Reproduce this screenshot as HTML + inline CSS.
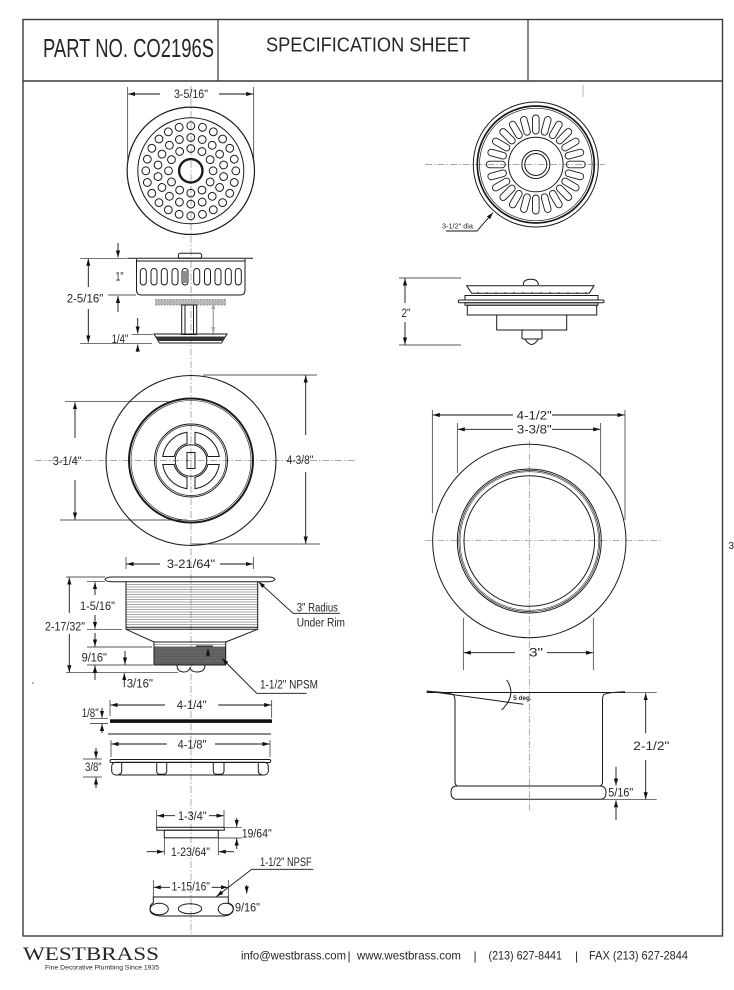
<!DOCTYPE html>
<html><head><meta charset="utf-8"><style>
html,body{margin:0;padding:0;background:#fff;}
svg{display:block;}
text{font-family:"Liberation Sans",sans-serif;fill:#262626;}
.k{stroke:#1a1a1a;fill:none;stroke-width:1;}
.d{stroke:#111;fill:none;stroke-width:0.9;}
.e{stroke:#222;fill:none;stroke-width:0.7;}
.c{stroke:#8a8a8a;fill:none;stroke-width:0.7;stroke-dasharray:7 2 1.5 2;}
.t{font-size:11.5px;}
</style></head><body>
<svg width="734" height="990" viewBox="0 0 734 990" xmlns="http://www.w3.org/2000/svg">
<defs>
<marker id="a" viewBox="0 0 10 6" refX="10" refY="3" markerWidth="7" markerHeight="4.4" markerUnits="userSpaceOnUse" orient="auto"><path d="M0,0L10,3L0,6z" fill="#111"/></marker>
<marker id="g" viewBox="0 0 10 6" refX="10" refY="3" markerWidth="7" markerHeight="4.4" markerUnits="userSpaceOnUse" orient="auto"><path d="M0,0L10,3L0,6z" fill="#aaa"/></marker>
</defs>

<!-- FRAME -->
<rect x="23" y="19.5" width="699.5" height="916.5" fill="none" stroke="#3a3a3a" stroke-width="1.4"/>
<line x1="23" y1="81" x2="722.5" y2="81" stroke="#3a3a3a" stroke-width="1.4"/>
<line x1="218" y1="19.5" x2="218" y2="81" stroke="#3a3a3a" stroke-width="1.2"/>
<line x1="528" y1="19.5" x2="528" y2="81" stroke="#3a3a3a" stroke-width="1.2"/>
<text x="43" y="57" font-size="25.5" textLength="171" lengthAdjust="spacingAndGlyphs">PART NO. CO2196S</text>
<text x="266" y="51.5" font-size="20.5" textLength="204" lengthAdjust="spacingAndGlyphs">SPECIFICATION SHEET</text>
<line x1="583" y1="85" x2="583" y2="97" stroke="#bbb" stroke-width="1"/>

<!-- CENTERLINES -->
<line class="c" x1="191" y1="86" x2="191" y2="936"/>
<line class="c" x1="425" y1="164.5" x2="605" y2="164.5"/>
<line class="c" x1="35" y1="460.5" x2="355" y2="460.5"/>
<line class="c" x1="425" y1="540.7" x2="660" y2="540.7"/>
<line class="c" x1="529.3" y1="441" x2="529.3" y2="812"/>

<!-- TOP LEFT STRAINER (top view) -->
<line class="e" x1="127.7" y1="87" x2="127.7" y2="163"/>
<line class="e" x1="253.7" y1="87" x2="253.7" y2="163"/>
<line class="d" x1="160" y1="94" x2="128.2" y2="94" marker-end="url(#a)"/>
<line class="d" x1="219" y1="94" x2="253.2" y2="94" marker-end="url(#a)"/>
<text class="t" x="191" y="98" text-anchor="middle" textLength="34" lengthAdjust="spacingAndGlyphs">3-5/16"</text>
<g transform="translate(190.8,170.8)" class="k">
<circle r="63.7" stroke-width="1.2"/>
<circle r="53"/>
<circle r="11.7" stroke-width="2.4"/>
<g stroke-width="1">
<circle cy="-45" r="3.9"/><circle cy="-45" r="3.9" transform="rotate(15)"/><circle cy="-45" r="3.9" transform="rotate(30)"/><circle cy="-45" r="3.9" transform="rotate(45)"/><circle cy="-45" r="3.9" transform="rotate(60)"/><circle cy="-45" r="3.9" transform="rotate(75)"/><circle cy="-45" r="3.9" transform="rotate(90)"/><circle cy="-45" r="3.9" transform="rotate(105)"/><circle cy="-45" r="3.9" transform="rotate(120)"/><circle cy="-45" r="3.9" transform="rotate(135)"/><circle cy="-45" r="3.9" transform="rotate(150)"/><circle cy="-45" r="3.9" transform="rotate(165)"/><circle cy="-45" r="3.9" transform="rotate(180)"/><circle cy="-45" r="3.9" transform="rotate(195)"/><circle cy="-45" r="3.9" transform="rotate(210)"/><circle cy="-45" r="3.9" transform="rotate(225)"/><circle cy="-45" r="3.9" transform="rotate(240)"/><circle cy="-45" r="3.9" transform="rotate(255)"/><circle cy="-45" r="3.9" transform="rotate(270)"/><circle cy="-45" r="3.9" transform="rotate(285)"/><circle cy="-45" r="3.9" transform="rotate(300)"/><circle cy="-45" r="3.9" transform="rotate(315)"/><circle cy="-45" r="3.9" transform="rotate(330)"/><circle cy="-45" r="3.9" transform="rotate(345)"/>
<circle cy="-33.3" r="3.9"/><circle cy="-33.3" r="3.9" transform="rotate(20)"/><circle cy="-33.3" r="3.9" transform="rotate(40)"/><circle cy="-33.3" r="3.9" transform="rotate(60)"/><circle cy="-33.3" r="3.9" transform="rotate(80)"/><circle cy="-33.3" r="3.9" transform="rotate(100)"/><circle cy="-33.3" r="3.9" transform="rotate(120)"/><circle cy="-33.3" r="3.9" transform="rotate(140)"/><circle cy="-33.3" r="3.9" transform="rotate(160)"/><circle cy="-33.3" r="3.9" transform="rotate(180)"/><circle cy="-33.3" r="3.9" transform="rotate(200)"/><circle cy="-33.3" r="3.9" transform="rotate(220)"/><circle cy="-33.3" r="3.9" transform="rotate(240)"/><circle cy="-33.3" r="3.9" transform="rotate(260)"/><circle cy="-33.3" r="3.9" transform="rotate(280)"/><circle cy="-33.3" r="3.9" transform="rotate(300)"/><circle cy="-33.3" r="3.9" transform="rotate(320)"/><circle cy="-33.3" r="3.9" transform="rotate(340)"/>
<circle cy="-22.3" r="3.9"/><circle cy="-22.3" r="3.9" transform="rotate(30)"/><circle cy="-22.3" r="3.9" transform="rotate(60)"/><circle cy="-22.3" r="3.9" transform="rotate(90)"/><circle cy="-22.3" r="3.9" transform="rotate(120)"/><circle cy="-22.3" r="3.9" transform="rotate(150)"/><circle cy="-22.3" r="3.9" transform="rotate(180)"/><circle cy="-22.3" r="3.9" transform="rotate(210)"/><circle cy="-22.3" r="3.9" transform="rotate(240)"/><circle cy="-22.3" r="3.9" transform="rotate(270)"/><circle cy="-22.3" r="3.9" transform="rotate(300)"/><circle cy="-22.3" r="3.9" transform="rotate(330)"/>
</g>
</g>

<!-- BASKET SIDE VIEW -->
<line class="d" x1="118" y1="243" x2="118" y2="257.5" marker-end="url(#a)"/>
<line class="e" x1="80" y1="258.3" x2="127" y2="258.3"/>
<line class="k" x1="127.5" y1="258.3" x2="253" y2="258.3" stroke-width="1.6"/>
<path class="k" d="M136.5,259 L136.5,290 Q136.5,295 141.5,295 L240,295 Q245,295 245,290 L245,259"/>
<line class="k" x1="136.5" y1="261" x2="245" y2="261" stroke-width="0.6"/>
<rect class="k" x="178.3" y="253.3" width="23.4" height="5" rx="2" fill="#fff"/>
<g class="k" stroke-width="0.9">
<rect x="140.3" y="268.5" width="6" height="16.5" rx="3"/>
<rect x="151" y="268.5" width="6" height="16.5" rx="3"/>
<rect x="161.3" y="268.5" width="6" height="16.5" rx="3"/>
<rect x="172" y="268.5" width="6" height="16.5" rx="3"/>
<rect x="182" y="268.5" width="6" height="16.5" rx="3"/>
<line x1="184" y1="271" x2="184" y2="283"/><line x1="186" y1="271" x2="186" y2="283"/>
<rect x="193.7" y="268.5" width="6" height="16.5" rx="3"/>
<rect x="204.5" y="268.5" width="6" height="16.5" rx="3"/>
<rect x="215" y="268.5" width="6" height="16.5" rx="3"/>
<rect x="225.3" y="268.5" width="6" height="16.5" rx="3"/>
<rect x="235.3" y="268.5" width="6" height="16.5" rx="3"/>
</g>
<text class="t" x="119.5" y="280.7" text-anchor="middle" textLength="8" lengthAdjust="spacingAndGlyphs">1"</text>
<line class="d" x1="118" y1="312" x2="118" y2="296" marker-end="url(#a)"/>
<line class="e" x1="108" y1="295" x2="136" y2="295"/>
<line class="d" x1="88.3" y1="287" x2="88.3" y2="258.8" marker-end="url(#a)"/>
<line class="d" x1="88.3" y1="309" x2="88.3" y2="342.5" marker-end="url(#a)"/>
<text class="t" x="85" y="302.5" text-anchor="middle" textLength="36.6" lengthAdjust="spacingAndGlyphs">2-5/16"</text>
<line class="e" x1="80" y1="343.3" x2="152" y2="343.3"/>
<rect x="155" y="299.5" width="71" height="5.5" fill="#b8b8b8"/>
<line x1="155" y1="299.5" x2="226" y2="299.5" stroke="#888" stroke-width="1" stroke-dasharray="1.5 1.5"/>
<line x1="155" y1="305" x2="226" y2="305" stroke="#888" stroke-width="1" stroke-dasharray="1.5 1.5"/>
<rect class="k" x="181.7" y="305" width="15" height="29.5" fill="#fff"/>
<line class="k" x1="185" y1="305" x2="185" y2="334" stroke-width="0.6"/>
<line class="k" x1="193.5" y1="305" x2="193.5" y2="334" stroke-width="0.6"/>
<line x1="213.3" y1="320" x2="213.3" y2="302" stroke="#aaa" stroke-width="1.4" marker-end="url(#g)"/>
<line x1="213.3" y1="318" x2="213.3" y2="334" stroke="#aaa" stroke-width="1.4" marker-end="url(#g)"/>
<polygon class="k" points="154,334 227,334 221.5,343 159.5,343" fill="#fff"/>
<polygon points="156,336.5 225,336.5 222,341 159,341" fill="#333"/>
<text class="t" x="120" y="343" text-anchor="middle" textLength="16.6" lengthAdjust="spacingAndGlyphs">1/4"</text>
<line class="d" x1="137.7" y1="318" x2="137.7" y2="333.5" marker-end="url(#a)"/>
<line class="e" x1="131.7" y1="334.3" x2="153" y2="334.3"/>
<line class="d" x1="137.7" y1="352" x2="137.7" y2="344.5" marker-end="url(#a)"/>

<!-- TOP RIGHT STRAINER -->
<g transform="translate(535.8,164.5)" class="k">
<circle r="62.5"/>
<circle r="58.5" stroke-width="1.7"/>
<circle r="56.3" stroke-width="0.7"/>
<g stroke-width="0.9">
<rect x="-3.3" y="-49.5" width="6.6" height="19" rx="3.3"/><rect x="-3.3" y="-49.5" width="6.6" height="19" rx="3.3" transform="rotate(15)"/><rect x="-3.3" y="-49.5" width="6.6" height="19" rx="3.3" transform="rotate(30)"/><rect x="-3.3" y="-49.5" width="6.6" height="19" rx="3.3" transform="rotate(45)"/><rect x="-3.3" y="-49.5" width="6.6" height="19" rx="3.3" transform="rotate(60)"/><rect x="-3.3" y="-49.5" width="6.6" height="19" rx="3.3" transform="rotate(75)"/><rect x="-3.3" y="-49.5" width="6.6" height="19" rx="3.3" transform="rotate(90)"/><rect x="-3.3" y="-49.5" width="6.6" height="19" rx="3.3" transform="rotate(105)"/><rect x="-3.3" y="-49.5" width="6.6" height="19" rx="3.3" transform="rotate(120)"/><rect x="-3.3" y="-49.5" width="6.6" height="19" rx="3.3" transform="rotate(135)"/><rect x="-3.3" y="-49.5" width="6.6" height="19" rx="3.3" transform="rotate(150)"/><rect x="-3.3" y="-49.5" width="6.6" height="19" rx="3.3" transform="rotate(165)"/><rect x="-3.3" y="-49.5" width="6.6" height="19" rx="3.3" transform="rotate(180)"/><rect x="-3.3" y="-49.5" width="6.6" height="19" rx="3.3" transform="rotate(195)"/><rect x="-3.3" y="-49.5" width="6.6" height="19" rx="3.3" transform="rotate(210)"/><rect x="-3.3" y="-49.5" width="6.6" height="19" rx="3.3" transform="rotate(225)"/><rect x="-3.3" y="-49.5" width="6.6" height="19" rx="3.3" transform="rotate(240)"/><rect x="-3.3" y="-49.5" width="6.6" height="19" rx="3.3" transform="rotate(255)"/><rect x="-3.3" y="-49.5" width="6.6" height="19" rx="3.3" transform="rotate(270)"/><rect x="-3.3" y="-49.5" width="6.6" height="19" rx="3.3" transform="rotate(285)"/><rect x="-3.3" y="-49.5" width="6.6" height="19" rx="3.3" transform="rotate(300)"/><rect x="-3.3" y="-49.5" width="6.6" height="19" rx="3.3" transform="rotate(315)"/><rect x="-3.3" y="-49.5" width="6.6" height="19" rx="3.3" transform="rotate(330)"/><rect x="-3.3" y="-49.5" width="6.6" height="19" rx="3.3" transform="rotate(345)"/>
</g>
<circle r="27.3"/>
<circle r="14"/>
<circle r="11"/>
</g>
<text x="442" y="228.3" font-size="7.5" textLength="33" lengthAdjust="spacingAndGlyphs">3-1/2" dia.</text>
<path class="d" d="M446,231 L477,231 L493,212.5" marker-end="url(#a)"/>

<!-- RIGHT SIDE VIEW (2") -->
<line class="e" x1="399" y1="278" x2="461" y2="278"/>
<line class="e" x1="399" y1="345" x2="461" y2="345"/>
<line class="d" x1="405" y1="303" x2="405" y2="278.5" marker-end="url(#a)"/>
<line class="d" x1="405" y1="322" x2="405" y2="344.5" marker-end="url(#a)"/>
<text class="t" x="406" y="317" text-anchor="middle" textLength="9" lengthAdjust="spacingAndGlyphs">2"</text>
<path class="k" d="M523.3,285 Q523.3,279.3 530.8,279.3 Q538.3,279.3 538.3,285" fill="#fff"/>
<polygon class="k" points="466.7,285.7 594,285.7 589.3,293.3 471.7,293.3" fill="#fff"/>
<g fill="#333">
<circle cx="478" cy="293" r="0.9"/><circle cx="487" cy="293" r="0.9"/><circle cx="496" cy="293" r="0.9"/><circle cx="505" cy="293" r="0.9"/><circle cx="514" cy="293" r="0.9"/><circle cx="523" cy="293" r="0.9"/><circle cx="532" cy="293" r="0.9"/><circle cx="541" cy="293" r="0.9"/><circle cx="550" cy="293" r="0.9"/><circle cx="559" cy="293" r="0.9"/><circle cx="568" cy="293" r="0.9"/><circle cx="577" cy="293" r="0.9"/><circle cx="586" cy="293" r="0.9"/>
</g>
<rect class="k" x="465" y="295.5" width="133" height="4.5" fill="#fff"/>
<rect class="k" x="458.3" y="300" width="145.7" height="2.8" rx="1.3" fill="#fff"/>
<rect class="k" x="465" y="302.8" width="133" height="2.4" fill="#fff"/>
<rect class="k" x="467.3" y="305.2" width="129.4" height="9.8" fill="#fff"/>
<rect class="k" x="496.7" y="315" width="70" height="15" fill="#fff"/>
<rect class="k" x="522" y="330" width="20" height="9" rx="1.5" fill="#fff"/>
<path class="k" d="M525,339 Q531.5,350 538.3,339"/>

<!-- MIDDLE LEFT FLANGE TOP VIEW -->
<g transform="translate(191,460.5)" class="k">
<circle r="85" stroke-width="1.1"/>
<circle r="62" stroke-width="2"/>
<circle r="60" stroke-width="0.6"/>
<circle r="36.5"/>
<circle r="35" stroke-width="0.7"/>
<path d="M4,-16.83 L4,-28.22 A28.5,28.5 0 0 1 28.22,-4 L16.83,-4 A17.3,17.3 0 0 0 4,-16.83 Z"/>
<path d="M4,-16.83 L4,-28.22 A28.5,28.5 0 0 1 28.22,-4 L16.83,-4 A17.3,17.3 0 0 0 4,-16.83 Z" transform="rotate(90)"/>
<path d="M4,-16.83 L4,-28.22 A28.5,28.5 0 0 1 28.22,-4 L16.83,-4 A17.3,17.3 0 0 0 4,-16.83 Z" transform="rotate(180)"/>
<path d="M4,-16.83 L4,-28.22 A28.5,28.5 0 0 1 28.22,-4 L16.83,-4 A17.3,17.3 0 0 0 4,-16.83 Z" transform="rotate(270)"/>
<circle r="15.8"/>
<rect x="-4" y="-8" width="8" height="16"/>
</g>
<line class="e" x1="65" y1="401.7" x2="173" y2="401.7"/>
<line class="e" x1="60" y1="520" x2="187" y2="520"/>
<line class="d" x1="75" y1="438" x2="75" y2="402.2" marker-end="url(#a)"/>
<line class="d" x1="75" y1="480" x2="75" y2="519.5" marker-end="url(#a)"/>
<text class="t" x="67.2" y="465" text-anchor="middle" textLength="29" lengthAdjust="spacingAndGlyphs">3-1/4"</text>
<line class="e" x1="203" y1="375" x2="317" y2="375"/>
<line class="e" x1="190" y1="544" x2="320" y2="544"/>
<line class="d" x1="305.7" y1="435" x2="305.7" y2="375.5" marker-end="url(#a)"/>
<line class="d" x1="305.7" y1="472" x2="305.7" y2="543.5" marker-end="url(#a)"/>
<text class="t" x="300" y="464" text-anchor="middle" textLength="26.6" lengthAdjust="spacingAndGlyphs">4-3/8"</text>

<!-- DRAIN BODY -->
<line class="e" x1="126" y1="557" x2="126" y2="569"/>
<line class="e" x1="253.3" y1="557" x2="253.3" y2="569"/>
<line class="d" x1="160" y1="564" x2="126.5" y2="564" marker-end="url(#a)"/>
<line class="d" x1="220" y1="564" x2="252.8" y2="564" marker-end="url(#a)"/>
<text class="t" x="191" y="568" text-anchor="middle" textLength="48.3" lengthAdjust="spacingAndGlyphs">3-21/64"</text>
<g stroke="#8a8a8a" stroke-width="0.7">
<line x1="126" y1="584.5" x2="257.7" y2="584.5"/><line x1="126" y1="587" x2="257.7" y2="587"/><line x1="126" y1="589.5" x2="257.7" y2="589.5"/><line x1="126" y1="592" x2="257.7" y2="592"/><line x1="126" y1="594.5" x2="257.7" y2="594.5"/><line x1="126" y1="597" x2="257.7" y2="597"/><line x1="126" y1="599.5" x2="257.7" y2="599.5"/><line x1="126" y1="602" x2="257.7" y2="602"/><line x1="126" y1="604.5" x2="257.7" y2="604.5"/><line x1="126" y1="607" x2="257.7" y2="607"/><line x1="126" y1="609.5" x2="257.7" y2="609.5"/><line x1="126" y1="612" x2="257.7" y2="612"/><line x1="126" y1="614.5" x2="257.7" y2="614.5"/><line x1="126" y1="617" x2="257.7" y2="617"/><line x1="126" y1="619.5" x2="257.7" y2="619.5"/><line x1="126" y1="622" x2="257.7" y2="622"/><line x1="126" y1="624.5" x2="257.7" y2="624.5"/>
</g>
<line class="k" x1="126" y1="581.7" x2="126" y2="629.3"/>
<line class="k" x1="257.7" y1="581.7" x2="257.7" y2="629.3"/>
<line class="k" x1="126" y1="627.3" x2="257.7" y2="627.3" stroke-width="0.7"/>
<line class="k" x1="126" y1="629.3" x2="257.7" y2="629.3"/>
<path class="k" d="M126,629.3 L154,642 M257.7,629.3 L225.7,642"/>
<path class="k" d="M105,579.3 Q106,577 112,577 L268,577 Q274,577 275,579.3 Q274,581.7 268,581.7 L112,581.7 Q106,581.7 105,579.3 Z" fill="#fff"/>
<rect x="154" y="646.5" width="71.7" height="18.5" fill="#5e5e5e"/>
<g stroke="#7a7a7a" stroke-width="0.6"><line x1="154" y1="649" x2="225.7" y2="649"/><line x1="154" y1="652" x2="225.7" y2="652"/><line x1="154" y1="655" x2="225.7" y2="655"/><line x1="154" y1="658" x2="225.7" y2="658"/><line x1="154" y1="661" x2="225.7" y2="661"/></g>
<line x1="154" y1="644.3" x2="225.7" y2="644.3" stroke="#777" stroke-width="0.7"/>
<rect class="k" x="154" y="642" width="71.7" height="23"/>
<path class="k" d="M177,665 Q177,672 184,672 Q188.5,672 190,668 Q191.5,672 197,672 Q205,672 205,665" fill="#fff"/>
<line class="k" x1="196" y1="646" x2="213" y2="646" stroke-width="0.8"/>
<line class="d" x1="208" y1="657" x2="208" y2="648.5" marker-end="url(#a)"/>
<!-- leaders -->
<path class="d" d="M340,613.3 L293,613.3 L258.5,581.7" marker-end="url(#a)"/>
<text class="t" x="296.7" y="611.5" textLength="41.3" lengthAdjust="spacingAndGlyphs">3" Radius</text>
<text class="t" x="296.7" y="626.5" textLength="48.3" lengthAdjust="spacingAndGlyphs">Under Rim</text>
<path class="d" d="M306.7,693.3 L256.7,693.3 L222,658.5" marker-end="url(#a)"/>
<text class="t" x="260" y="688.3" textLength="58" lengthAdjust="spacingAndGlyphs">1-1/2" NPSM</text>
<!-- left dims -->
<line class="e" x1="66" y1="577" x2="105" y2="577"/>
<line class="e" x1="66" y1="672.7" x2="178" y2="672.7"/>
<line class="d" x1="69.3" y1="613" x2="69.3" y2="577.5" marker-end="url(#a)"/>
<line class="d" x1="69.3" y1="634" x2="69.3" y2="672.2" marker-end="url(#a)"/>
<text class="t" x="65" y="630.5" text-anchor="middle" textLength="40" lengthAdjust="spacingAndGlyphs">2-17/32"</text>
<line class="e" x1="87" y1="581.7" x2="105" y2="581.7"/>
<line class="d" x1="95" y1="595" x2="95" y2="582.2" marker-end="url(#a)"/>
<text class="t" x="97.5" y="610" text-anchor="middle" textLength="35" lengthAdjust="spacingAndGlyphs">1-5/16"</text>
<line class="d" x1="95" y1="615" x2="95" y2="628.8" marker-end="url(#a)"/>
<line class="e" x1="87" y1="629.3" x2="122" y2="629.3"/>
<line class="d" x1="95" y1="633" x2="95" y2="646.5" marker-end="url(#a)"/>
<line class="e" x1="87" y1="647" x2="152" y2="647"/>
<text class="t" x="94.3" y="661.5" text-anchor="middle" textLength="25.3" lengthAdjust="spacingAndGlyphs">9/16"</text>
<line class="d" x1="125" y1="651" x2="125" y2="664.5" marker-end="url(#a)"/>
<line class="e" x1="87" y1="665" x2="153" y2="665"/>
<line class="d" x1="95" y1="680" x2="95" y2="665.5" marker-end="url(#a)"/>
<line class="d" x1="124.3" y1="687" x2="124.3" y2="673.2" marker-end="url(#a)"/>
<text class="t" x="126.7" y="687.5" textLength="26.3" lengthAdjust="spacingAndGlyphs">3/16"</text>
<circle cx="33" cy="683" r="0.7" fill="#444"/>

<!-- GASKETS 4-1/4 and 4-1/8 -->
<line class="e" x1="110" y1="700" x2="110" y2="716"/>
<line class="e" x1="271.7" y1="700" x2="271.7" y2="718"/>
<line class="d" x1="165" y1="705" x2="110.5" y2="705" marker-end="url(#a)"/>
<line class="d" x1="218.3" y1="705" x2="271.2" y2="705" marker-end="url(#a)"/>
<text class="t" x="191.7" y="709" text-anchor="middle" textLength="30" lengthAdjust="spacingAndGlyphs">4-1/4"</text>
<rect x="110" y="719.3" width="162" height="3.6" fill="#111"/>
<line class="e" x1="90" y1="718.3" x2="108" y2="718.3"/>
<line class="e" x1="90" y1="723.5" x2="108" y2="723.5"/>
<text class="t" x="81.7" y="717" textLength="17" lengthAdjust="spacingAndGlyphs">1/8"</text>
<line class="d" x1="102" y1="708" x2="102" y2="717.8" marker-end="url(#a)"/>
<line class="d" x1="102" y1="733" x2="102" y2="724" marker-end="url(#a)"/>
<line class="k" x1="108" y1="734" x2="271" y2="734"/>
<line class="e" x1="111" y1="740" x2="111" y2="757"/>
<line class="e" x1="270" y1="740" x2="270" y2="757"/>
<line class="d" x1="166.7" y1="744" x2="111.5" y2="744" marker-end="url(#a)"/>
<line class="d" x1="215" y1="744" x2="269.5" y2="744" marker-end="url(#a)"/>
<text class="t" x="192" y="748.5" text-anchor="middle" textLength="28.7" lengthAdjust="spacingAndGlyphs">4-1/8"</text>
<rect class="k" x="111.7" y="762.3" width="156.6" height="12.7" rx="4" fill="#fff"/>
<rect class="k" x="110" y="759.5" width="160.7" height="3" rx="1.5" fill="#fff"/>
<path class="k" d="M121.7,762.5 L121.7,771 Q121.7,774.3 118.5,774.3"/>
<path class="k" d="M258.3,762.5 L258.3,771 Q258.3,774.3 261.5,774.3"/>
<path class="k" d="M156.7,762.5 L156.7,771 Q156.7,774.3 160,774.3 L163.4,774.3 Q166.7,774.3 166.7,771 L166.7,762.5"/>
<path class="k" d="M213.3,762.5 L213.3,771 Q213.3,774.3 216.6,774.3 L220.7,774.3 Q224,774.3 224,771 L224,762.5"/>
<line class="e" x1="83" y1="759" x2="101.7" y2="759"/>
<line class="e" x1="83" y1="777" x2="101.7" y2="777"/>
<line class="d" x1="96" y1="748" x2="96" y2="758.5" marker-end="url(#a)"/>
<line class="d" x1="96" y1="788" x2="96" y2="777.5" marker-end="url(#a)"/>
<text class="t" x="85" y="771" textLength="16.7" lengthAdjust="spacingAndGlyphs">3/8"</text>

<!-- SMALL PARTS -->
<line class="e" x1="156.7" y1="810" x2="156.7" y2="828"/>
<line class="e" x1="224" y1="810" x2="224" y2="828"/>
<line class="d" x1="175" y1="815.7" x2="157.2" y2="815.7" marker-end="url(#a)"/>
<line class="d" x1="209" y1="815.7" x2="223.5" y2="815.7" marker-end="url(#a)"/>
<text class="t" x="192.3" y="820" text-anchor="middle" textLength="28.7" lengthAdjust="spacingAndGlyphs">1-3/4"</text>
<rect class="k" x="156.7" y="827.3" width="67.6" height="2.9" fill="#fff"/>
<rect class="k" x="164.3" y="830.2" width="54" height="7.6" fill="#fff"/>
<line class="e" x1="225" y1="827.3" x2="241.7" y2="827.3"/>
<line class="e" x1="218.3" y1="838" x2="241.7" y2="838"/>
<line class="d" x1="236.7" y1="818" x2="236.7" y2="826.8" marker-end="url(#a)"/>
<line class="d" x1="236.7" y1="849" x2="236.7" y2="838.5" marker-end="url(#a)"/>
<text class="t" x="241.7" y="837.5" textLength="30" lengthAdjust="spacingAndGlyphs">19/64"</text>
<line class="e" x1="164.3" y1="838" x2="164.3" y2="855"/>
<line class="e" x1="218.3" y1="838" x2="218.3" y2="855"/>
<line class="d" x1="146.7" y1="851.7" x2="163.8" y2="851.7" marker-end="url(#a)"/>
<line class="d" x1="234" y1="851.7" x2="218.8" y2="851.7" marker-end="url(#a)"/>
<text class="t" x="190.5" y="856" text-anchor="middle" textLength="39" lengthAdjust="spacingAndGlyphs">1-23/64"</text>
<text class="t" x="260" y="866" textLength="51.7" lengthAdjust="spacingAndGlyphs">1-1/2" NPSF</text>
<path class="d" d="M313.3,869.3 L251.7,869.3 L216.5,896.5" marker-end="url(#a)"/>
<line class="e" x1="153.3" y1="880" x2="153.3" y2="897"/>
<line class="e" x1="228.3" y1="880" x2="228.3" y2="897"/>
<line class="d" x1="170" y1="887.3" x2="153.8" y2="887.3" marker-end="url(#a)"/>
<line class="d" x1="211.7" y1="887.3" x2="227.8" y2="887.3" marker-end="url(#a)"/>
<text class="t" x="190.8" y="890.7" text-anchor="middle" textLength="38.3" lengthAdjust="spacingAndGlyphs">1-15/16"</text>
<path class="k" d="M153.3,897 L228.3,897 L228.3,903 Q234,905 233.3,909.5 Q232.5,915 224,916 L160,916 Q150,915 150,909.5 Q150,904 153.3,903 Z" fill="#fff"/>
<ellipse class="k" cx="159.2" cy="909" rx="9.1" ry="5.8" stroke-width="1.2"/>
<ellipse class="k" cx="190" cy="908.7" rx="11.7" ry="5" stroke-width="1.2"/>
<ellipse class="k" cx="225.7" cy="909" rx="7.5" ry="5.8" stroke-width="1.2"/>
<line class="d" x1="246.7" y1="885" x2="246.7" y2="893.5" marker-end="url(#a)"/>
<text class="t" x="235" y="911.7" textLength="25" lengthAdjust="spacingAndGlyphs">9/16"</text>

<!-- RIGHT CUP TOP VIEW -->
<line class="e" x1="432.3" y1="410" x2="432.3" y2="513"/>
<line class="e" x1="625" y1="410" x2="625" y2="520"/>
<line class="e" x1="457.3" y1="423" x2="457.3" y2="473"/>
<line class="e" x1="600.7" y1="423" x2="600.7" y2="475"/>
<line class="d" x1="513" y1="415" x2="432.8" y2="415" marker-end="url(#a)"/>
<line class="d" x1="552" y1="415" x2="624.5" y2="415" marker-end="url(#a)"/>
<text class="t" x="534.2" y="419.3" text-anchor="middle" textLength="35" lengthAdjust="spacingAndGlyphs">4-1/2"</text>
<line class="d" x1="513" y1="429.3" x2="457.8" y2="429.3" marker-end="url(#a)"/>
<line class="d" x1="552" y1="429.3" x2="600.2" y2="429.3" marker-end="url(#a)"/>
<text class="t" x="534.3" y="433.3" text-anchor="middle" textLength="34.7" lengthAdjust="spacingAndGlyphs">3-3/8"</text>
<g class="k">
<circle cx="529.3" cy="541" r="96.7"/>
<circle cx="529.3" cy="541" r="72"/>
<circle cx="529.3" cy="541" r="70.5" stroke-width="0.7"/>
<circle cx="529.3" cy="541" r="69.3" stroke-width="0.5"/>
<circle cx="529.3" cy="541" r="65.3"/>
</g>
<line class="e" x1="463.3" y1="618" x2="463.3" y2="670"/>
<line class="e" x1="593.3" y1="618" x2="593.3" y2="670"/>
<line class="d" x1="515" y1="652.7" x2="463.8" y2="652.7" marker-end="url(#a)"/>
<line class="d" x1="547" y1="652.7" x2="592.8" y2="652.7" marker-end="url(#a)"/>
<text class="t" x="536" y="656.7" text-anchor="middle" textLength="14" lengthAdjust="spacingAndGlyphs">3"</text>

<!-- CUP SIDE VIEW -->
<line class="k" x1="426.7" y1="692.5" x2="625" y2="692.5"/>
<path class="k" d="M426.7,691.3 Q451,692.6 453.5,695 Q455,697 455,701 L455,782 Q455,785 457.5,786"/>
<path class="k" d="M625,691.8 Q605,692.6 603.5,695 Q602.5,697 602.5,701 L602.5,782 Q602.5,785 600,786"/>
<line class="k" x1="426.7" y1="691" x2="523.3" y2="704.3" stroke-width="0.9"/>
<path class="k" d="M506.7,680 Q517,695 501.7,710" stroke-width="0.9"/>
<text x="513.3" y="700" font-size="6.2" font-weight="bold" textLength="18.4" lengthAdjust="spacingAndGlyphs">5 deg.</text>
<path class="k" d="M457,786 L600,786 Q606,786 606,792.6 Q606,799.3 600,799.3 L457,799.3 Q451,799.3 451,792.6 Q451,786 457,786 Z" fill="#fff"/>
<line class="e" x1="603.3" y1="692.7" x2="656.7" y2="692.7"/>
<line class="e" x1="602.7" y1="799.7" x2="656.7" y2="799.7"/>
<line class="d" x1="645.7" y1="733.3" x2="645.7" y2="693.2" marker-end="url(#a)"/>
<line class="d" x1="645.7" y1="760" x2="645.7" y2="799.2" marker-end="url(#a)"/>
<text class="t" x="651.3" y="750" text-anchor="middle" textLength="36" lengthAdjust="spacingAndGlyphs">2-1/2"</text>
<line class="d" x1="616" y1="766.7" x2="616" y2="785.5" marker-end="url(#a)"/>
<line class="d" x1="616" y1="820" x2="616" y2="800.3" marker-end="url(#a)"/>
<text class="t" x="608.3" y="796.7" textLength="25" lengthAdjust="spacingAndGlyphs">5/16"</text>

<text x="728.5" y="549" font-size="10">3</text>

<!-- FOOTER -->
<text x="23" y="960" style="font-family:'Liberation Serif',serif" font-size="19" textLength="136" lengthAdjust="spacingAndGlyphs" fill="#222">WESTBRASS</text>
<text x="159" y="969.5" font-size="6.5" text-anchor="end" textLength="114" lengthAdjust="spacingAndGlyphs">Fine Decorative Plumbing Since 1935</text>
<g font-size="12">
<text x="241" y="959.3" textLength="105" lengthAdjust="spacingAndGlyphs">info@westbrass.com</text>
<text x="347.5" y="960">|</text>
<text x="357" y="959.3" textLength="104" lengthAdjust="spacingAndGlyphs">www.westbrass.com</text>
<text x="473.5" y="960">|</text>
<text x="488.5" y="959.3" textLength="73.5" lengthAdjust="spacingAndGlyphs">(213) 627-8441</text>
<text x="575" y="960">|</text>
<text x="589" y="959.3" textLength="99" lengthAdjust="spacingAndGlyphs">FAX (213) 627-2844</text>
</g>
</svg>
</body></html>
